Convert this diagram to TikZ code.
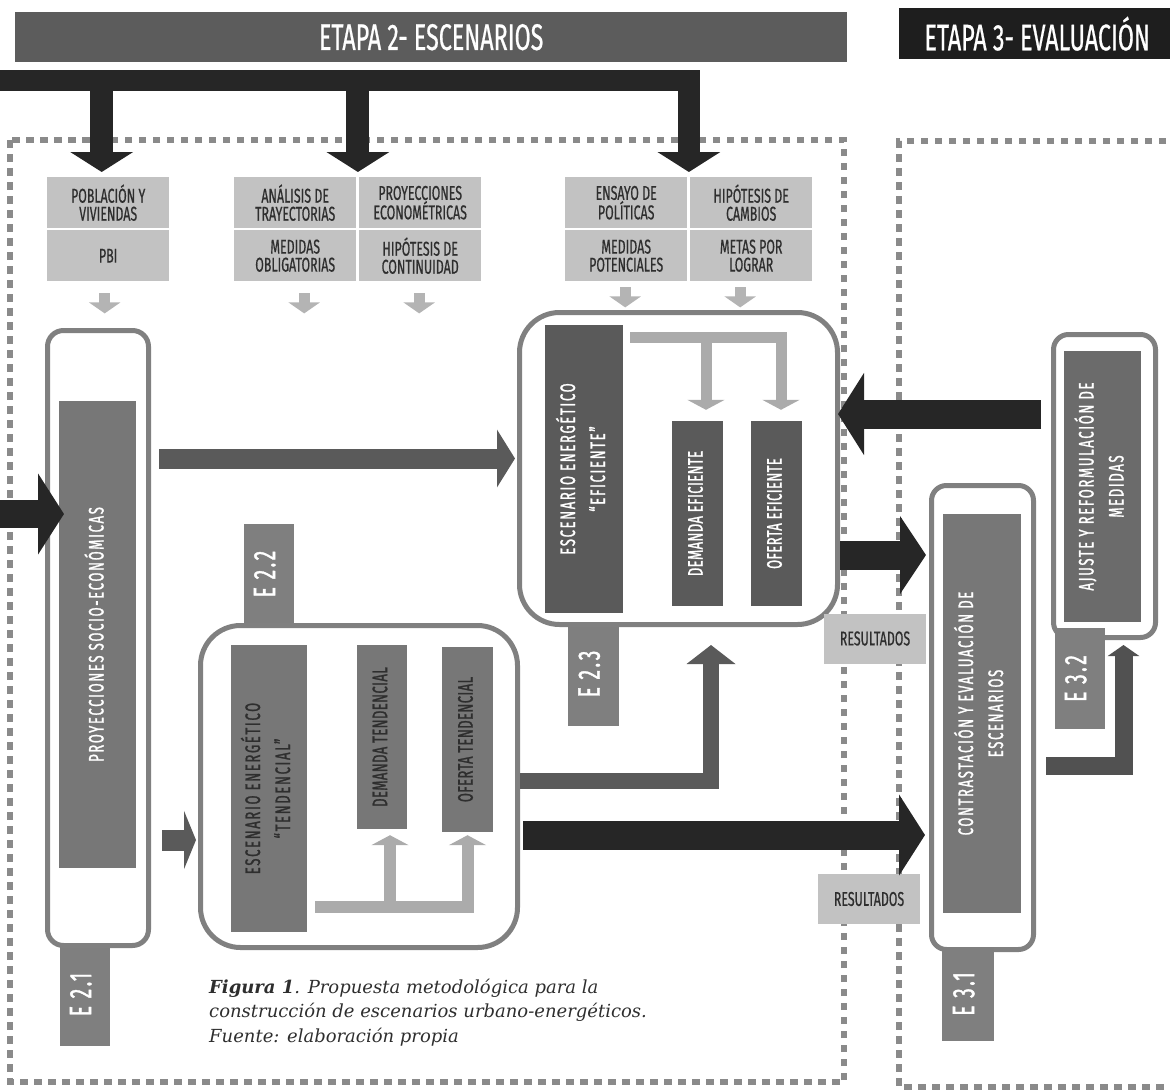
\documentclass[tikz,border=0pt]{standalone}
\usepackage{fontspec}
\usepackage{graphicx}
\newfontfamily\condfont[FakeStretch=0.62,FakeBold=0.6]{Fira Sans}
\newfontfamily\headfont[FakeStretch=0.63,FakeBold=0.6]{Fira Sans}
\newfontfamily\spacedfont[FakeStretch=0.62,FakeBold=1.2,LetterSpace=8]{Fira Sans}
\newfontfamily\tightfont[FakeStretch=0.62,FakeBold=1.2,LetterSpace=2]{Fira Sans}
\newfontfamily\captionfont{DejaVu Serif}
\usetikzlibrary{arrows.meta,calc}

\definecolor{inkdark}{HTML}{262626}
\definecolor{inkmid}{HTML}{5A5A5A}
\definecolor{boxline}{HTML}{808080}
\definecolor{tabgray}{HTML}{7F7F7F}
\definecolor{barlight}{HTML}{777777}
\definecolor{inputfill}{HTML}{C2C2C2}
\definecolor{branchgray}{HTML}{ABABAB}
\definecolor{hintgray}{HTML}{B4B4B4}
\definecolor{framegray}{HTML}{8A8A8A}
\definecolor{headtwo}{HTML}{5C5C5C}
\definecolor{headthree}{HTML}{1E1E1E}
\definecolor{labeltext}{HTML}{2E2E2E}

\newcommand\vlabel[1]{\rotatebox{90}{\begin{tabular}{@{}c@{}}#1\end{tabular}}}

\begin{document}
\begin{tikzpicture}[x=1pt,y=-1pt,
  frame/.style={framegray, line width=5.5pt, dash pattern=on 7.5pt off 6.5pt},
  headbar/.style={inner sep=0, text=white, anchor=north west, font=\headfont\fontsize{37}{37}\selectfont},
  inbox/.style={fill=inputfill, text=labeltext, minimum width=122, minimum height=51, inner sep=0, align=center, anchor=north west, font=\condfont\fontsize{20}{18}\selectfont},
  holder/.style={draw=boxline, line width=5pt, fill=white, anchor=north west, inner sep=0},
  bar/.style={inner sep=0, text=white, font=\spacedfont\fontsize{21}{30}\selectfont},
  smallbar/.style={bar, font=\tightfont\fontsize{21}{26}\selectfont},
  tabbox/.style={fill=tabgray, inner sep=0, text=white, font=\spacedfont\fontsize{31}{31}\selectfont},
  resbox/.style={fill=inputfill, text=labeltext, minimum width=102, minimum height=50, inner sep=0, font=\condfont\fontsize{20}{20}\selectfont},
  flowdark/.style={color=inkdark, line width=29pt, -{Triangle[width=80pt,length=26pt]}},
  flowmid/.style={color=inkmid, line width=20pt},
  branch/.style={color=branchgray, line width=11pt, -{Triangle[width=37pt,length=10pt]}},
  hint/.style={color=hintgray, line width=11pt, -{Triangle[width=31pt,length=11pt]}}]

\useasboundingbox (0,0) rectangle (1170,1092);

% stage headers
\node[headbar, fill=headtwo, minimum width=832, minimum height=50] (etapados) at (15,12) {ETAPA 2- ESCENARIOS};
\node[headbar, fill=headthree, minimum width=276, minimum height=51] (etapatres) at (899,8) {ETAPA 3- EVALUACIÓN};

% dotted frames
\draw[frame] (10,140) rectangle (844,1082);
\draw[frame] (1180,141) -- (899,141) -- (899,1087) -- (1180,1087);

% inputs
\node[inbox] (pob) at (47,177) {POBLACIÓN Y\\VIVIENDAS};
\node[inbox] (pbi) at (47,230) {PBI};
\node[inbox] (tra) at (234,177) {ANÁLISIS DE\\TRAYECTORIAS};
\node[inbox] (eco) at (359,177) {PROYECCIONES\\ECONOMÉTRICAS};
\node[inbox] (obl) at (234,230) {MEDIDAS\\OBLIGATORIAS};
\node[inbox] (cont) at (359,230) {HIPÓTESIS DE\\CONTINUIDAD};
\node[inbox] (pol) at (565,177) {ENSAYO DE\\POLÍTICAS};
\node[inbox] (cam) at (690,177) {HIPÓTESIS DE\\CAMBIOS};
\node[inbox] (pot) at (565,230) {MEDIDAS\\POTENCIALES};
\node[inbox] (met) at (690,230) {METAS POR\\LOGRAR};

% feeding bar
\coordinate (feed) at (0,80.5);
\coordinate (feedend) at (699.5,80.5);
\draw[color=inkdark, line width=21pt] (feed) -- (feedend);
\draw[color=inkdark, line width=23pt, -{Triangle[width=62pt,length=20pt]}, shorten >=5pt]
  ($(pob.north |- feed)+(-6.5,0)$) -- ($(pob.north)+(-6.5,0)$);
\draw[color=inkdark, line width=23pt, -{Triangle[width=62pt,length=20pt]}, shorten >=5pt]
  ($(tra.north east |- feed)+(1.5,0)$) -- ($(tra.north east)+(1.5,0)$);
\draw[color=inkdark, line width=22pt, -{Triangle[width=62pt,length=20pt]}, shorten >=5pt]
  ($(pol.north east |- feed)+(1.5,0)$) -- ($(pol.north east)+(1.5,0)$);

\draw[hint] ($(pbi.south)+(-3.5,12)$) -- ++(0,20);
\draw[hint] ($(obl.south)+(9,12)$) -- ++(0,20);
\draw[hint] ($(cont.south)+(-1,12)$) -- ++(0,20);
\draw[hint] ($(pot.south)+(-1,6)$) -- ++(0,20);
\draw[hint] ($(met.south)+(-11,6)$) -- ++(0,20);

% E 2.1
\node[tabbox, minimum width=50, minimum height=103] (tabuno) at (85,994.5) {\vlabel{E 2.1}};
\node[holder, rounded corners=16pt, minimum width=101, minimum height=615] (socio) at (45,328) {};
\node[bar, fill=barlight, minimum width=77, minimum height=467] (sociobar) at (97.5,634.5) {\vlabel{PROYECCIONES SOCIO-ECONÓMICAS}};

% E 2.2
\node[tabbox, minimum width=50, minimum height=100] (tabdos) at (269,574) {\vlabel{E 2.2}};
\node[holder, rounded corners=40pt, minimum width=317, minimum height=322] (tend) at (198,623) {};
\node[bar, fill=barlight, text=labeltext, minimum width=76, minimum height=287] (tendsc) at (269,788.5) {\vlabel{ESCENARIO ENERGÉTICO\\“TENDENCIAL”}};
\node[smallbar, fill=barlight, text=labeltext, minimum width=50, minimum height=184] (tenddem) at (382,737) {\vlabel{DEMANDA TENDENCIAL}};
\node[smallbar, fill=barlight, text=labeltext, minimum width=51, minimum height=185] (tendof) at (467.5,739.5) {\vlabel{OFERTA TENDENCIAL}};
\coordinate (tendfork) at (315,907);
\draw[branch, line width=12pt, shorten >=3pt] (tendfork) -| (tendof.south);
\draw[branch, line width=12pt, shorten >=6pt] ($(tenddem.south |- tendfork)+(8,0)$) -- ($(tenddem.south)+(8,0)$);

% E 2.3
\node[tabbox, minimum width=51, minimum height=104] (tabtres) at (593.5,674) {\vlabel{E 2.3}};
\node[holder, rounded corners=40pt, minimum width=318, minimum height=312] (efic) at (517,310) {};
\node[bar, fill=inkmid, minimum width=78, minimum height=288] (efsc) at (584,469) {\vlabel{ESCENARIO ENERGÉTICO\\“EFICIENTE”}};
\node[smallbar, fill=inkmid, minimum width=51, minimum height=185] (efdem) at (697.5,513.5) {\vlabel{DEMANDA EFICIENTE}};
\node[smallbar, fill=inkmid, minimum width=51, minimum height=185] (efof) at (776.5,513.5) {\vlabel{OFERTA EFICIENTE}};
\coordinate (effork) at (630,337.5);
\draw[branch, shorten >=11pt] (effork) -| ($(efof.north)+(4.5,0)$);
\draw[branch, shorten >=11pt] ($(efdem.north |- effork)+(8.5,0)$) -- ($(efdem.north)+(8.5,0)$);

% E 3.1
\node[holder, rounded corners=15pt, minimum width=102, minimum height=464] (contr) at (929,483) {};
\node[bar, fill=barlight, minimum width=78, minimum height=399] (contrbar) at (982,713.5) {\vlabel{CONTRASTACIÓN Y EVALUACIÓN DE\\ESCENARIOS}};
\node[tabbox, minimum width=52, minimum height=94] (tabcuatro) at (968,994) {\vlabel{E 3.1}};

% E 3.2
\node[holder, rounded corners=15pt, minimum width=102, minimum height=303] (ajus) at (1051,332) {};
\node[bar, fill=barlight!90!black, minimum width=77, minimum height=271] (ajusbar) at (1102.5,486.5) {\vlabel{AJUSTE Y REFORMULACIÓN DE\\MEDIDAS}};
\node[tabbox, minimum width=50, minimum height=101] (tabcinco) at (1080,678.5) {\vlabel{E 3.2}};

% results
\node[resbox] (resuno) at (875,638.5) {RESULTADOS};
\node[resbox] (resdos) at (869,899) {RESULTADOS};

% flows
\coordinate (entry) at (0,514);
\draw[flowdark, line width=28pt, shorten >=-19pt] (entry) -- (entry -| socio.west);

\coordinate (pa) at ($(efic.west)+(0,-10)$);
\draw[flowmid, -{Triangle[width=57pt,length=18pt]}, shorten <=8pt, shorten >=2pt] (pa -| socio.east) -- (pa);

\coordinate (pb) at ($(tend.west)+(0,53.5)$);
\draw[flowmid, line width=21pt, -{Triangle[width=58pt,length=12pt]}, shorten <=11pt, shorten >=2pt] (pb -| socio.east) -- (pb);

\coordinate (pc) at ($(tend.east)+(0,-6)$);
\draw[flowmid, line width=16pt, -{Triangle[width=48pt,length=19pt]}, shorten >=18pt] (pc) -| ($(efic.south)+(32.5,0)$);

\coordinate (pd) at ($(tend.east)+(0,48.5)$);
\draw[flowdark, shorten <=3pt, shorten >=4pt] (pd) -- (pd -| contr.west);

\coordinate (pe) at ($(efic.east)+(0,86.5)$);
\draw[flowdark, -{Triangle[width=77pt,length=26pt]}, shorten >=3pt] (pe) -- (pe -| contr.west);

\coordinate (pf) at ($(ajus.west)+(0,-72)$);
\draw[flowdark, -{Triangle[width=81pt,length=26pt]}, shorten <=10pt, shorten >=-2pt] (pf) -- (pf -| efic.east);

\coordinate (pg) at ($(contr.east)+(0,48)$);
\draw[color=inkmid!90!black, line width=18pt, -{Triangle[width=31pt,length=11pt]}, shorten <=10pt, shorten >=5pt] (pg) -| ($(ajus.south)+(19,0)$);

% caption
\node[anchor=base west, align=left, inner sep=0, text=labeltext, font=\captionfont\itshape\fontsize{18}{24.5}\selectfont] (caption) at (209,1042)
  {\textbf{Figura 1}. Propuesta metodológica para la\\construcción de escenarios urbano-energéticos.\\Fuente: elaboración propia};

\end{tikzpicture}
\end{document}
